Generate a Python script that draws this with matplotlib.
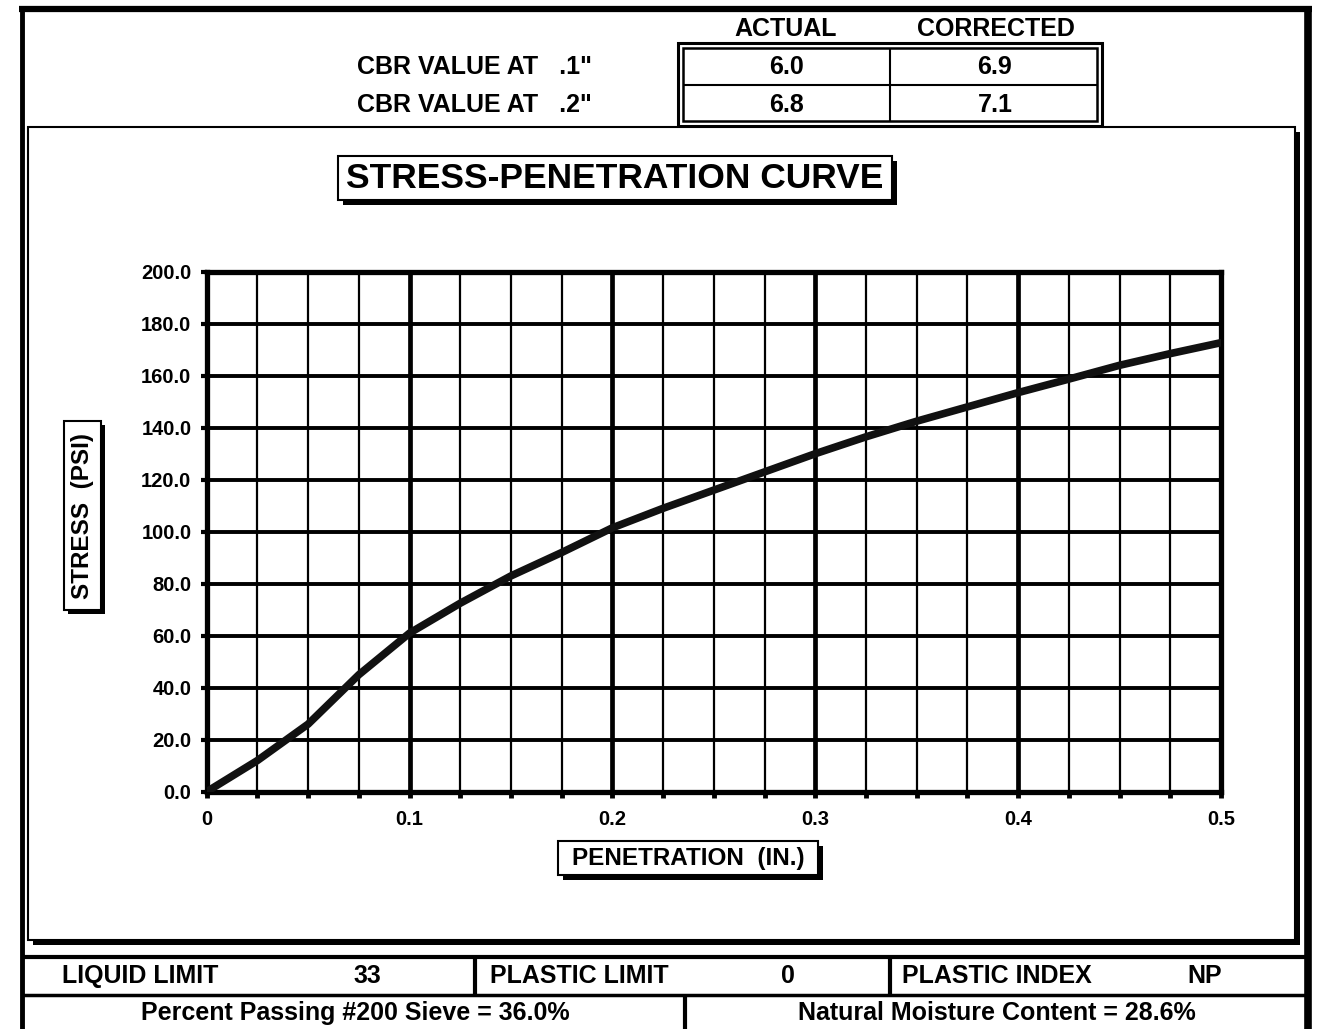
import matplotlib
matplotlib.use("Agg")
import matplotlib.pyplot as plt
from matplotlib.patches import Rectangle
from matplotlib.ticker import MultipleLocator, FixedLocator

# ─── Test data ───────────────────────────────────────────────────────────────

penetration = [0.0, 0.025, 0.05, 0.075, 0.1, 0.125, 0.15, 0.175, 0.2, 0.225,
               0.25, 0.275, 0.3, 0.325, 0.35, 0.375, 0.4, 0.425, 0.45, 0.475, 0.5]
stress = [0.0, 12.0, 26.0, 45.0, 61.0, 72.5, 83.0, 92.0, 101.5, 109.0,
          116.0, 123.0, 130.0, 136.5, 142.5, 148.0, 153.5, 158.7, 164.0, 168.5, 172.7]

x_ticks = [0, 0.1, 0.2, 0.3, 0.4, 0.5]
x_tick_labels = ["0", "0.1", "0.2", "0.3", "0.4", "0.5"]
y_ticks = [0, 20, 40, 60, 80, 100, 120, 140, 160, 180, 200]

cbr_rows = ['CBR VALUE AT   .1"', 'CBR VALUE AT   .2"']
cbr_actual = ["6.0", "6.8"]
cbr_corrected = ["6.9", "7.1"]

limits = [("LIQUID LIMIT", "33"), ("PLASTIC LIMIT", "0"), ("PLASTIC INDEX", "NP")]
passing_200 = "Percent Passing #200 Sieve = 36.0%"
moisture = "Natural Moisture Content = 28.6%"

# ─── Figure / page frame (drawn in pixel coordinates) ───────────────────────

W, H = 1317, 1029
FONT = ["Liberation Sans", "DejaVu Sans"]
plt.rcParams["font.family"] = FONT

fig = plt.figure(figsize=(W / 100, H / 100), dpi=100)
fig.patch.set_facecolor("white")

bg = fig.add_axes([0, 0, 1, 1])
bg.set_xlim(0, W)
bg.set_ylim(H, 0)
bg.axis("off")


def box(x0, y0, x1, y1, lw=1.5, fill="white", shadow=0, z=2):
    """Rectangle in page pixels, optional drop shadow to the lower right."""
    if shadow:
        bg.add_patch(Rectangle((x0 + shadow, y0 + shadow), x1 - x0, y1 - y0,
                               facecolor="black", edgecolor="none", zorder=z - 0.5))
    bg.add_patch(Rectangle((x0, y0), x1 - x0, y1 - y0, facecolor=fill,
                           edgecolor="black", linewidth=lw, zorder=z))


def hline(y, x0, x1, lw):
    bg.plot([x0, x1], [y, y], color="black", linewidth=lw, solid_capstyle="butt", zorder=6)


def vline(x, y0, y1, lw):
    bg.plot([x, x], [y0, y1], color="black", linewidth=lw, solid_capstyle="butt", zorder=6)


def label(x, y, s, size, ha="center", **kw):
    bg.text(x, y, s, ha=ha, va="center", fontsize=size, fontweight="bold", zorder=8, **kw)


# outer frame
hline(9, 19, 1312, 4.5)
vline(22, 6, H, 3.5)
vline(1308, 6, H, 5.5)

# CBR summary table
label(786, 29, "ACTUAL", 18)
label(996, 29, "CORRECTED", 18)
box(678, 43, 1102, 126, lw=2.2, z=2)
box(683, 48, 1097, 121, lw=1.8, z=3)
hline(85, 683, 1097, 1.5)
vline(890, 48, 121, 1.5)
for i, (lab, a, c) in enumerate(zip(cbr_rows, cbr_actual, cbr_corrected)):
    yc = 67 + 38 * i
    label(592, yc, lab, 18, ha="right")
    label(786, yc, a, 18)
    label(995, yc, c, 18)

# chart panel with shadow
box(28, 127, 1295, 940, lw=1.5, shadow=5, z=2)

# title and axis-name boxes
box(338, 156, 892, 200, lw=1.5, shadow=5, z=4)
label(615, 179, "STRESS-PENETRATION CURVE", 25.5)
box(64, 421, 101, 610, lw=1.5, shadow=4, z=4)
label(83, 516, "STRESS  (PSI)", 17.5, rotation=90)
box(558, 841, 818, 875, lw=1.5, shadow=5, z=4)
label(688, 858, "PENETRATION  (IN.)", 17.5)

# soil properties table
hline(957, 22, 1308, 3)
hline(995, 22, 1308, 2.5)
vline(475, 957, 995, 3)
vline(890, 957, 995, 3)
vline(685, 995, H, 3)
cells = [(62, 367), (490, 788), (902, 1205)]
for (name, val), (xl, xv) in zip(limits, cells):
    label(xl, 976, name, 18, ha="left")
    label(xv, 976, val, 18)
label(355, 1013, passing_200, 18)
label(997, 1013, moisture, 18)

# ─── Stress-penetration plot ─────────────────────────────────────────────────

ax_l, ax_r, ax_t, ax_b = 206.7, 1221.0, 271.7, 791.7
ax = fig.add_axes([ax_l / W, 1 - ax_b / H, (ax_r - ax_l) / W, (ax_b - ax_t) / H])
ax.set_facecolor("white")
ax.set_zorder(5)
ax.set_xlim(0, 0.5)
ax.set_ylim(0, 200)

ax.xaxis.set_major_locator(FixedLocator(x_ticks))
ax.xaxis.set_minor_locator(MultipleLocator(0.025))
ax.set_xticks(x_ticks, x_tick_labels)
ax.set_yticks(y_ticks, [f"{v:.1f}" for v in y_ticks])

ax.grid(True, which="major", axis="x", color="black", linewidth=3.4)
ax.grid(True, which="minor", axis="x", color="black", linewidth=1.6)
ax.grid(True, which="major", axis="y", color="black", linewidth=2.8)
ax.set_axisbelow(True)

for side in ["left", "top", "right", "bottom"]:
    ax.spines[side].set_linewidth(3.8)
    ax.spines[side].set_color("black")

ax.tick_params(axis="y", which="major", direction="out", length=4, width=3,
               pad=7, labelsize=14.5)
ax.tick_params(axis="x", which="both", direction="out", length=4, width=3.5,
               pad=9, labelsize=14.5)
for lab in ax.get_xticklabels() + ax.get_yticklabels():
    lab.set_fontweight("bold")

ax.plot(penetration, stress, color="#111111", linewidth=5.5,
        solid_capstyle="round", solid_joinstyle="round", zorder=5)

fig.savefig("out.png", dpi=100, facecolor="white")
plt.close(fig)
